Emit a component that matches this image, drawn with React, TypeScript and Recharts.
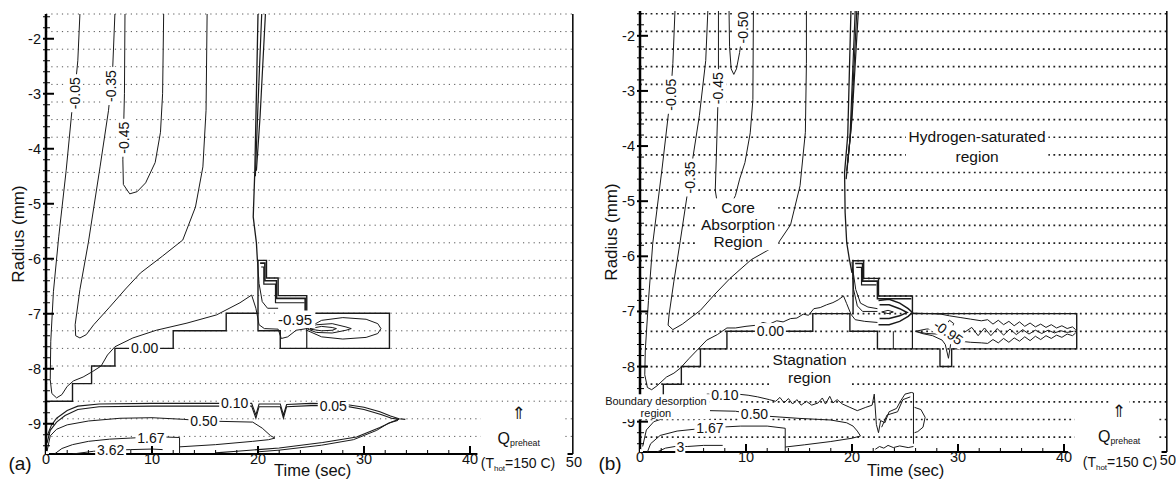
import React from "react";
import { LineChart, Line, XAxis, YAxis, ReferenceLine, ReferenceDot, ReferenceArea } from "recharts";

const FONT = "'Liberation Sans', Arial, Helvetica, sans-serif";
const SYMBOL_FONT = "'DejaVu Sans', 'Liberation Sans', sans-serif";
const INK = "#1a1a1a";
const UP_ARROW = "\u21D1\uFE0E";

// axis ticks
const X_TICKS = [0, 2, 4, 6, 8, 10, 12, 14, 16, 18, 20, 22, 24, 26, 28, 30, 32, 34, 36, 38, 40, 50];
const X_LABELS = [0, 10, 20, 30, 40, 50];
const Y_TICKS = [
  -9.4, -9.2, -9, -8.8, -8.6, -8.4, -8.2, -8, -7.8, -7.6, -7.4, -7.2, -7, -6.8, -6.6, -6.4, -6.2, -6,
  -5.8, -5.6, -5.4, -5.2, -5, -4.8, -4.6, -4.4, -4.2, -4, -3.8, -3.6, -3.4, -3.2, -3, -2.8, -2.6, -2.4,
  -2.2, -2, -1.8, -1.6,
];
const Y_LABELS = [-9, -8, -7, -6, -5, -4, -3, -2];

// radial mesh rows (dotted)
const MESH_A = [
  -1.55, -1.87, -2.19, -2.51, -2.83, -3.15, -3.47, -3.79, -4.11, -4.43, -4.75, -5.07, -5.39, -5.71,
  -6.03, -6.35, -6.67, -6.99, -7.31, -7.63, -7.95, -8.27, -8.59, -8.91, -9.23,
];
const MESH_B = [
  -1.6, -1.92, -2.24, -2.56, -2.88, -3.2, -3.52, -3.84, -4.16, -4.48, -4.8, -5.12, -5.44, -5.76,
  -6.08, -6.4, -6.72, -7.04, -7.36, -7.68, -8.0, -8.32, -8.64, -8.96, -9.28,
];

// ---- panel (a) contours: [time, radius]
const A_ZERO = [[0,-8.59],[2.5,-8.59],[2.5,-8.27],[4.3,-8.27],[4.3,-7.95],[6.5,-7.95],[6.5,-7.63],[12.0,-7.63],[12.0,-7.31],[17.0,-7.31],[17.0,-6.99],[20.0,-6.99],[20.0,-7.31],[22.1,-7.31],[22.1,-7.63],[32.4,-7.63],[32.4,-6.99],[24.6,-6.99],[24.6,-6.67],[21.9,-6.67],[21.9,-6.35],[20.8,-6.35],[20.8,-6.03],[20.0,-6.03],[20.0,-6.99]];
const A_ZERO_IN = [[24.6,-6.99],[24.6,-7.63]];
const A_STEP_IN1 = [[20.2,-6.08],[20.65,-6.08],[20.65,-6.4],[21.75,-6.4],[21.75,-6.72],[24.45,-6.72],[24.45,-6.95]];
const A_STEP_IN2 = [[20.3,-6.15],[20.55,-6.15],[20.55,-6.46],[21.65,-6.46],[21.65,-6.8],[24.4,-6.8]];
const A_BOX_LOW = [[21.9,-7.18],[24.6,-7.18]];
const A_FAN = [[19.95,-6.05],[20.1,-6.45],[20.4,-6.78],[20.9,-6.9],[21.9,-6.9]];
const A_BUNDLE1 = [[20.0,-1.55],[19.85,-3.0],[19.7,-4.4],[19.55,-5.24],[19.85,-5.71],[19.95,-6.05]];
const A_BUNDLE2 = [[20.35,-1.55],[20.0,-3.2],[19.75,-4.5]];
const A_BUNDLE3 = [[20.7,-1.55],[20.2,-3.4],[19.85,-4.4]];
const A_M005 = [[3.2,-1.55],[3.0,-2.4],[2.7,-3.0],[2.45,-3.3],[1.9,-4.4],[1.2,-5.6],[0.7,-6.6],[0.45,-7.5],[0.4,-8.2],[0.55,-8.45],[1.0,-8.53],[1.5,-8.47],[2.0,-8.32],[2.6,-8.22],[3.5,-8.15],[4.4,-8.05],[5.2,-7.95],[5.8,-7.75],[6.5,-7.6],[8.2,-7.44],[10.4,-7.3],[13.3,-7.17],[16.1,-7.02],[18.3,-6.8],[19.4,-6.66],[19.8,-6.9],[20.1,-7.2],[20.6,-7.27],[21.9,-7.28],[22.2,-7.45],[22.8,-7.42],[23.6,-7.3],[24.6,-7.27]];
const A_M035 = [[6.5,-1.55],[6.3,-2.5],[5.9,-3.3],[5.1,-4.33],[4.0,-5.7],[3.2,-6.56],[2.75,-7.2],[2.8,-7.4],[3.2,-7.44],[3.8,-7.38],[4.5,-7.2],[6.0,-6.88],[7.5,-6.55],[8.9,-6.26],[11.0,-5.95],[12.9,-5.66],[14.1,-5.06],[14.8,-4.33],[15.1,-3.3],[15.2,-1.55]];
const A_M045 = [[7.45,-1.55],[7.4,-3.0],[7.25,-4.2],[7.3,-4.65],[7.9,-4.82],[8.6,-4.78],[9.4,-4.62],[10.3,-4.25],[10.8,-3.7],[11.0,-3.0],[11.1,-1.55]];
const A_LOBE1 = [[24.6,-7.27],[26,-7.12],[28,-7.07],[30.2,-7.1],[31.3,-7.18],[31.6,-7.27],[31.3,-7.36],[30.2,-7.43],[28,-7.46],[26,-7.42],[24.6,-7.3]];
const A_LOBE2 = [[24.7,-7.27],[25.5,-7.2],[27,-7.18],[28.3,-7.24],[28.8,-7.27],[28.3,-7.3],[27,-7.35],[25.5,-7.34],[24.7,-7.28]];
const A_LOBE3 = [[24.9,-7.27],[26,-7.23],[27,-7.25],[27.4,-7.27],[27,-7.3],[26,-7.31],[24.9,-7.28]];
const A_010 = [[0.15,-9.2],[0.5,-9.03],[1.0,-8.9],[2.0,-8.76],[3.0,-8.68],[5,-8.64],[10,-8.63],[15,-8.63],[19.4,-8.63],[19.8,-8.84],[20.1,-8.64],[22.1,-8.64],[22.4,-8.84],[22.7,-8.65],[25,-8.63],[28,-8.64],[30,-8.7],[31.5,-8.78],[32.5,-8.86],[33.3,-8.91],[33.9,-8.92]];
const A_005 = [[0.1,-9.35],[0.4,-9.12],[1.0,-8.97],[1.8,-8.85],[3.0,-8.74],[5,-8.69],[10,-8.68],[15,-8.68],[19.4,-8.68],[19.8,-8.9],[20.1,-8.69],[22.1,-8.69],[22.4,-8.9],[22.7,-8.69],[25,-8.67],[28,-8.67],[30,-8.74],[31.6,-8.83],[32.6,-8.9],[33.3,-8.92],[32.6,-8.97],[31.5,-9.07],[29.3,-9.24],[26.1,-9.34],[22.0,-9.44],[20.0,-9.47],[18,-9.5],[16,-9.53]];
const A_005B = [[33.2,-8.94],[32.3,-8.99],[31.2,-9.12],[29.0,-9.29],[26.0,-9.39],[22.0,-9.48],[20,-9.51]];
const A_050 = [[0.1,-9.5],[0.4,-9.22],[1.0,-9.1],[2.0,-9.02],[4,-8.95],[7,-8.9],[10,-8.89],[13,-8.92],[15,-8.95],[19.5,-8.97],[20.4,-9.08],[21.2,-9.22],[21.6,-9.26],[21.0,-9.29],[19.5,-9.32],[16,-9.38],[12.6,-9.42]];
const A_167 = [[0.8,-9.55],[1.5,-9.45],[2.5,-9.38],[4,-9.32],[6,-9.28],[8,-9.26],[9,-9.25],[11,-9.24],[12.6,-9.25],[12.6,-9.55]];
const A_362 = [[2.5,-9.55],[4.5,-9.5],[6,-9.48],[8,-9.47],[10,-9.46],[11,-9.47]];

// ---- panel (b) contours
const B_ZERO = [[0,-8.64],[2.2,-8.64],[2.2,-8.32],[3.9,-8.32],[3.9,-8.0],[5.7,-8.0],[5.7,-7.68],[8.2,-7.68],[8.2,-7.36],[16.3,-7.36],[16.3,-7.04],[19.8,-7.04],[19.8,-7.36],[22.4,-7.36],[22.4,-7.68],[28.3,-7.68],[28.3,-8.0],[29.4,-8.0],[29.4,-7.68],[41.2,-7.68],[41.2,-7.04],[25.7,-7.04],[25.7,-6.72],[22.5,-6.72],[22.5,-6.4],[21.1,-6.4],[21.1,-6.08],[20.1,-6.08],[20.1,-7.04]];
const B_ZERO_IN = [[25.7,-7.04],[25.7,-7.68]];
const B_SMALL = [[23.9,-7.36],[23.9,-7.68]];
const B_STEP_IN1 = [[20.3,-6.13],[21.0,-6.13],[21.0,-6.45],[22.4,-6.45],[22.4,-6.77],[25.6,-6.77]];
const B_STEP_IN2 = [[20.4,-6.2],[20.9,-6.2],[20.9,-6.52],[22.3,-6.52]];
const B_FAN1 = [[20.0,-6.1],[20.15,-6.6],[20.5,-6.9],[21.0,-7.0],[22.4,-7.0]];
const B_FAN2 = [[20.05,-6.2],[20.35,-6.6],[20.8,-6.85],[21.5,-6.92],[22.4,-6.95]];
const B_BULLET1 = [[22.5,-6.8],[23.5,-6.78],[24.5,-6.85],[25.3,-6.95],[25.7,-7.02],[25.3,-7.09],[24.5,-7.18],[23.5,-7.24],[22.5,-7.24]];
const B_BULLET2 = [[22.6,-6.88],[23.5,-6.88],[24.5,-6.95],[25.2,-7.02],[24.5,-7.08],[23.5,-7.13],[22.6,-7.13]];
const B_BULLET3 = [[22.8,-7.01],[23.4,-6.98],[23.9,-7.01],[23.4,-7.04],[22.8,-7.01]];
const B_FUNNEL_TOP = [[25.7,-7.03],[27.5,-7.04],[28.4,-7.05],[29.2,-7.08],[30.2,-7.11],[31.2,-7.14],[32.2,-7.17],[32.8,-7.15],[33.3,-7.23],[33.8,-7.16],[34.3,-7.24],[34.8,-7.18],[35.3,-7.26],[35.8,-7.19],[36.3,-7.27],[36.8,-7.21],[37.3,-7.28],[37.8,-7.23],[38.3,-7.29],[38.8,-7.24],[39.3,-7.3],[39.8,-7.26],[40.3,-7.31],[40.8,-7.28],[41.1,-7.33]];
const B_FUNNEL_BOT = [[41.1,-7.39],[40.8,-7.44],[40.3,-7.41],[39.8,-7.47],[39.3,-7.43],[38.8,-7.49],[38.3,-7.44],[37.8,-7.51],[37.3,-7.45],[36.8,-7.53],[36.3,-7.46],[35.8,-7.54],[35.3,-7.48],[34.8,-7.56],[34.3,-7.49],[33.8,-7.57],[33.3,-7.51],[32.8,-7.58],[32.2,-7.57],[31.2,-7.56],[30.2,-7.54],[29.6,-7.54],[29.3,-7.6],[29.1,-7.85],[28.8,-7.6],[28.5,-7.52],[27.6,-7.44],[26.6,-7.4],[26.0,-7.36]];
const B_CORE = [[26.0,-7.36],[27.0,-7.32],[28.0,-7.31],[28.7,-7.29],[29.2,-7.16],[29.6,-7.22],[29.3,-7.34],[29.8,-7.46],[29.1,-7.44],[28.0,-7.41],[27.0,-7.4],[26.0,-7.36]];
const B_CHAIN = [[30.6,-7.38],[31.3,-7.29],[31.9,-7.44],[32.5,-7.3],[33.1,-7.44],[33.7,-7.31],[34.3,-7.43],[34.9,-7.32],[35.5,-7.42],[36.1,-7.33],[36.7,-7.41],[37.3,-7.34],[37.9,-7.4],[38.5,-7.34],[39.1,-7.39],[39.7,-7.35],[40.3,-7.38],[40.9,-7.36]];
const B_BUNDLE1 = [[19.9,-1.55],[19.6,-3.8],[19.3,-4.48],[19.35,-5.2],[19.5,-5.75],[19.75,-6.05],[20.0,-6.3]];
const B_BUNDLE2 = [[20.3,-1.55],[19.8,-3.9],[19.45,-4.6]];
const B_BUNDLE3 = [[20.6,-1.55],[20.0,-3.5],[19.6,-4.3]];
const B_BUNDLE4 = [[20.45,-1.55],[19.9,-3.7],[19.5,-4.45]];
const B_M005 = [[3.3,-1.55],[3.1,-2.5],[2.9,-3.05],[2.1,-4.38],[1.2,-5.77],[0.8,-6.8],[0.5,-7.7],[0.45,-8.15],[0.7,-8.38],[1.1,-8.42],[1.6,-8.35],[2.5,-8.19],[3.2,-8.12],[3.8,-8.03],[4.6,-7.86],[5.4,-7.7],[6.3,-7.52],[7.3,-7.42],[8.2,-7.3],[9.0,-7.3],[10.0,-7.27],[11.0,-7.25],[11.6,-7.2],[12.2,-7.23],[12.9,-7.17],[13.5,-7.19],[14.2,-7.13],[14.8,-7.12],[15.4,-7.05],[15.9,-7.07],[16.4,-6.95],[17.0,-6.93],[17.6,-6.88],[18.2,-6.84],[18.7,-6.79],[19.2,-6.72],[19.5,-6.86],[19.9,-7.05],[20.3,-7.15],[21.2,-7.18],[22.4,-7.2]];
const B_M035 = [[6.4,-1.55],[6.2,-2.45],[5.6,-3.45],[4.7,-4.57],[3.8,-5.72],[3.2,-6.45],[2.75,-7.05],[2.65,-7.25],[3.1,-7.33],[4.0,-7.23],[5.7,-6.98],[7.0,-6.7],[8.5,-6.4],[10.5,-6.06],[12.9,-5.8],[14.2,-5.43],[15.1,-4.72],[15.6,-3.75],[15.7,-2.5],[15.7,-1.55]];
const B_M045 = [[7.4,-1.55],[7.4,-2.9],[7.2,-4.2],[7.1,-4.8],[7.3,-5.05],[8.2,-5.2],[9.0,-4.9],[9.4,-4.6],[9.9,-4.3],[10.4,-3.76],[10.65,-3.16],[10.7,-1.55]];
const B_M050 = [[8.4,-1.55],[8.45,-2.2],[8.6,-2.6],[8.85,-2.7],[9.1,-2.6],[9.4,-2.3],[9.65,-1.95],[9.75,-1.55]];
const B_010 = [[6.3,-8.5],[9.2,-8.5],[10.2,-8.52],[11.1,-8.55],[12.2,-8.6],[12.8,-8.63],[13.2,-8.56],[13.6,-8.66],[14.0,-8.58],[14.4,-8.68],[14.8,-8.6],[15.2,-8.7],[15.7,-8.63],[16.2,-8.7],[16.8,-8.66],[17.2,-8.57],[17.5,-8.68],[17.9,-8.54],[18.2,-8.66],[18.6,-8.6],[19.1,-8.68],[19.8,-8.74],[20.5,-8.8],[21.3,-8.74],[21.9,-8.7],[22.1,-8.5],[22.3,-9.05],[22.5,-9.2],[22.7,-8.98],[23.1,-9.02],[23.5,-8.82],[24.2,-8.76],[24.6,-8.62],[25.0,-8.5],[25.6,-8.47],[25.8,-8.48],[25.8,-9.4]];
const B_010B = [[22.8,-9.1],[23.3,-8.88],[24.3,-8.82],[24.8,-8.6],[25.5,-8.55]];
const B_LOOP = [[25.9,-8.74],[26.5,-8.78],[26.9,-8.92],[26.7,-9.1],[26.2,-9.18],[25.9,-9.2]];
const B_050 = [[6.6,-8.8],[9.0,-8.81],[12.0,-8.9],[15.0,-8.94],[18.0,-8.97],[19.5,-9.02],[20.1,-9.08],[20.5,-9.17],[20.8,-9.26],[20.0,-9.3],[18.0,-9.36],[15.5,-9.42],[13.7,-9.46]];
const B_167 = [[0.7,-9.55],[1.0,-9.4],[1.9,-9.25],[3.5,-9.17],[5.5,-9.13],[7.5,-9.1],[9.5,-9.08],[12.0,-9.08],[13.7,-9.12],[13.7,-9.55]];
const B_EDGE = [[0.25,-9.45],[0.6,-9.15],[1.3,-9.0],[2.4,-8.93],[3.7,-8.9]];
const B_3 = [[1.6,-9.55],[2.4,-9.48],[3.3,-9.45],[4.5,-9.45],[6.0,-9.43],[7.8,-9.43]];
const B_FLOOR = [[22.2,-9.5],[22.6,-9.45],[23.0,-9.48],[23.4,-9.43],[23.9,-9.47],[24.5,-9.44],[25.3,-9.47],[25.8,-9.45]];

type Tag = { lines: string[]; t: number; r: number; size?: number; rot?: number; lh?: number; sub?: string; font?: string };

const A_TAGS: Tag[] = [
  { lines: ["-0.05"], t: 2.7, r: -2.99, rot: -90 },
  { lines: ["-0.35"], t: 6.1, r: -2.86, rot: -90 },
  { lines: ["-0.45"], t: 7.35, r: -3.8, rot: -90 },
  { lines: ["0.00"], t: 9.3, r: -7.63 },
  { lines: ["-0.95"], t: 23.5, r: -7.1, size: 15 },
  { lines: ["0.10"], t: 17.8, r: -8.63 },
  { lines: ["0.05"], t: 27.1, r: -8.67 },
  { lines: ["0.50"], t: 14.9, r: -8.95 },
  { lines: ["1.67"], t: 9.9, r: -9.25 },
  { lines: ["3.62"], t: 6.1, r: -9.47 },
  { lines: [UP_ARROW], t: 44.6, r: -8.8, size: 17, font: SYMBOL_FONT },
  { lines: ["Q"], sub: "preheat", t: 44.6, r: -9.26, size: 16 },
];

const B_TAGS: Tag[] = [
  { lines: ["-0.05"], t: 2.9, r: -3.07, rot: -90 },
  { lines: ["-0.35"], t: 4.7, r: -4.57, rot: -90 },
  { lines: ["-0.45"], t: 7.4, r: -2.95, rot: -90 },
  { lines: ["-0.50"], t: 9.7, r: -1.85, rot: -90 },
  { lines: ["0.00"], t: 12.3, r: -7.36 },
  { lines: ["-0.95"], t: 29.1, r: -7.38, rot: 35 },
  { lines: ["0.10"], t: 8.0, r: -8.52 },
  { lines: ["0.50"], t: 10.8, r: -8.86 },
  { lines: ["1.67"], t: 6.6, r: -9.12 },
  { lines: ["3"], t: 3.8, r: -9.46 },
  { lines: ["Core", "Absorption", "Region"], t: 9.25, r: -5.42, size: 15.5, lh: 17 },
  { lines: ["Hydrogen-saturated", "region"], t: 31.8, r: -4.01, size: 15.5, lh: 20 },
  { lines: ["Stagnation", "region"], t: 16.0, r: -8.03, size: 15.5, lh: 18 },
  { lines: ["Boundary desorption", "region"], t: 1.5, r: -8.73, size: 11, lh: 12 },
  { lines: [UP_ARROW], t: 45.2, r: -8.8, size: 17, font: SYMBOL_FONT },
  { lines: ["Q"], sub: "preheat", t: 45.2, r: -9.26, size: 16 },
];

const pts = (a: number[][]) => a.map(([t, r]) => ({ t, r }));

function TagShape({ cx, cy, tag }: { cx: number; cy: number; tag: Tag }) {
  const size = tag.size ?? 14;
  const lh = tag.lh ?? size * 1.1;
  const n = tag.lines.length;
  const longest = Math.max(...tag.lines.map((s) => s.length)) + (tag.sub ? tag.sub.length * 0.55 : 0);
  const w = longest * size * 0.5 + 3;
  const h = n * lh + 1;
  return (
    <g transform={`translate(${cx},${cy}) rotate(${tag.rot ?? 0})`}>
      <rect x={-w / 2} y={-h / 2} width={w} height={h} fill="#fff" />
      {tag.lines.map((s, i) => (
        <text key={i} x={0} y={(i - (n - 1) / 2) * lh} textAnchor="middle" dominantBaseline="central"
          fontSize={size} fontFamily={tag.font ?? FONT} fill="#111">
          {s}
          {tag.sub && <tspan fontSize={size * 0.55} dy={size * 0.32}>{tag.sub}</tspan>}
        </text>
      ))}
    </g>
  );
}

type PanelCfg = {
  left: number;
  width: number;
  margin: { top: number; right: number; bottom: number; left: number };
  bottom: number;
  mesh: number[];
  dot: { w: number; dash: string; color: string };
  series: { d: number[][]; w: number }[];
  tags: Tag[];
  axisEnd: number;
};

const PANEL_A: PanelCfg = {
  left: 0,
  width: 590,
  margin: { top: 14, right: 14, bottom: 2, left: 0 },
  bottom: 454,
  mesh: MESH_A,
  dot: { w: 1, dash: "1.2 4.1", color: "#555" },
  axisEnd: 40.7,
  tags: A_TAGS,
  series: [
    { d: A_ZERO, w: 1.4 }, { d: A_ZERO_IN, w: 1.2 }, { d: A_STEP_IN1, w: 1.6 }, { d: A_STEP_IN2, w: 1.2 },
    { d: A_BOX_LOW, w: 1 }, { d: A_FAN, w: 1 }, { d: A_BUNDLE1, w: 1.3 }, { d: A_BUNDLE2, w: 1.2 },
    { d: A_BUNDLE3, w: 1.2 }, { d: A_M005, w: 1 }, { d: A_M035, w: 1 }, { d: A_M045, w: 1 },
    { d: A_LOBE1, w: 1 }, { d: A_LOBE2, w: 1 }, { d: A_LOBE3, w: 1 }, { d: A_010, w: 1.1 },
    { d: A_005, w: 1.1 }, { d: A_005B, w: 1 }, { d: A_050, w: 1 }, { d: A_167, w: 1 }, { d: A_362, w: 1 },
  ],
};

const PANEL_B: PanelCfg = {
  left: 594,
  width: 582,
  margin: { top: 11, right: 6, bottom: 4, left: 0 },
  bottom: 452,
  mesh: MESH_B,
  dot: { w: 1.7, dash: "1.8 3.5", color: "#222" },
  axisEnd: 40.4,
  tags: B_TAGS,
  series: [
    { d: B_ZERO, w: 1.4 }, { d: B_ZERO_IN, w: 1.2 }, { d: B_SMALL, w: 1 }, { d: B_STEP_IN1, w: 1.6 },
    { d: B_STEP_IN2, w: 1.2 }, { d: B_FAN1, w: 1 }, { d: B_FAN2, w: 1 }, { d: B_BULLET1, w: 1.5 },
    { d: B_BULLET2, w: 1.5 }, { d: B_BULLET3, w: 1 }, { d: B_FUNNEL_TOP, w: 1 }, { d: B_FUNNEL_BOT, w: 1 },
    { d: B_CORE, w: 1 }, { d: B_CHAIN, w: 1 }, { d: B_BUNDLE1, w: 1.3 }, { d: B_BUNDLE2, w: 1.2 },
    { d: B_BUNDLE3, w: 1.2 }, { d: B_BUNDLE4, w: 1.2 }, { d: B_M005, w: 1 }, { d: B_M035, w: 1 },
    { d: B_M045, w: 1 }, { d: B_M050, w: 1 }, { d: B_010, w: 1 }, { d: B_010B, w: 1 }, { d: B_LOOP, w: 1 },
    { d: B_050, w: 1 }, { d: B_167, w: 1 }, { d: B_EDGE, w: 1 }, { d: B_3, w: 1 }, { d: B_FLOOR, w: 1 },
  ],
};

function Panel({ cfg }: { cfg: PanelCfg }) {
  const box = { position: "absolute" as const, left: cfg.left, top: 0 };
  const plotLeft = cfg.margin.left + 46;

  const xTick = (p: any) => {
    const v = p.payload.value;
    const major = X_LABELS.includes(v);
    const last = v === 50;
    return (
      <g>
        {!last && (
          <line x1={p.x} x2={p.x} y1={cfg.bottom} y2={cfg.bottom - (major ? 8 : 4)} stroke="#000" strokeWidth={major ? 2 : 1} />
        )}
        {major && (
          <text x={last ? p.x + 6 : p.x} y={cfg.bottom + (last ? 13 : 10)} textAnchor={last ? "end" : "middle"}
            fontSize={14.5} fontFamily={FONT} fill="#111">{v}</text>
        )}
      </g>
    );
  };

  const yTick = (p: any) => {
    const v = p.payload.value;
    const major = Y_LABELS.includes(v);
    return (
      <g>
        <line x1={plotLeft - 3} x2={plotLeft + (major ? 8 : 4)} y1={p.y} y2={p.y} stroke="#000" strokeWidth={major ? 2 : 1} />
        {major && (
          <text x={plotLeft - 5} y={p.y} textAnchor="end" dominantBaseline="central" fontSize={14.5} fontFamily={FONT} fill="#111">{v}</text>
        )}
      </g>
    );
  };

  return (
    <>
      <div style={box}>
        <LineChart width={cfg.width} height={486} margin={cfg.margin}>
          <XAxis dataKey="t" type="number" domain={[0, 50]} ticks={X_TICKS} interval={0} height={30}
            allowDataOverflow axisLine={false} tickLine={false} tick={xTick} />
          <YAxis dataKey="r" type="number" domain={[-9.55, -1.55]} ticks={Y_TICKS} interval={0} width={46}
            allowDataOverflow axisLine={{ stroke: "#000", strokeWidth: 2.5 }} tickLine={false} tick={yTick} />
          {cfg.mesh.map((r) => (
            <ReferenceLine key={r} segment={[{ x: 0, y: r }, { x: 49.7, y: r }]} stroke={cfg.dot.color}
              strokeWidth={cfg.dot.w} strokeDasharray={cfg.dot.dash} />
          ))}
          <ReferenceLine segment={[{ x: 0, y: -9.55 }, { x: cfg.axisEnd, y: -9.55 }]} stroke="#000" strokeWidth={2.2} />
          <ReferenceLine segment={[{ x: 49.2, y: -9.55 }, { x: 49.7, y: -9.55 }]} stroke="#000" strokeWidth={2} />
          <ReferenceLine segment={[{ x: 49.7, y: -9.55 }, { x: 49.7, y: -1.55 }]} stroke="#000" strokeWidth={1.5} />
          {cfg.series.map((s, i) => (
            <Line key={i} data={pts(s.d)} dataKey="r" type="linear" stroke={INK} strokeWidth={s.w}
              dot={false} activeDot={false} isAnimationActive={false} legendType="none" />
          ))}
        </LineChart>
      </div>
      <div style={box}>
        <LineChart width={cfg.width} height={486} margin={cfg.margin}>
          <XAxis dataKey="t" type="number" domain={[0, 50]} height={30} allowDataOverflow axisLine={false} tickLine={false} tick={false} />
          <YAxis dataKey="r" type="number" domain={[-9.55, -1.55]} width={46} allowDataOverflow axisLine={false} tickLine={false} tick={false} />
          <Line data={pts([[0, -9.55]])} dataKey="r" stroke="none" dot={false} activeDot={false} isAnimationActive={false} />
          <ReferenceArea x1={41} x2={48.9} y1={-9.55} y2={-8.72} fill="#fff" fillOpacity={1} stroke="none" />
          {cfg.tags.map((tag, i) => (
            <ReferenceDot key={i} x={tag.t} y={tag.r} r={1} ifOverflow="visible"
              shape={(p: any) => <TagShape cx={p.cx} cy={p.cy} tag={tag} />} />
          ))}
        </LineChart>
      </div>
    </>
  );
}

export default function App() {
  const txt = { fontFamily: FONT, fill: "#111" };
  return (
    <div style={{ position: "absolute", left: 0, top: 0, width: 1176, height: 486, background: "#fff", overflow: "hidden" }}>
      <Panel cfg={PANEL_A} />
      <Panel cfg={PANEL_B} />
      <svg width={1176} height={486} style={{ position: "absolute", left: 0, top: 0, pointerEvents: "none" }}>
        <text x={20} y={470} textAnchor="middle" fontSize={19} {...txt}>(a)</text>
        <text x={610} y={470} textAnchor="middle" fontSize={19} {...txt}>(b)</text>
        <text transform="translate(18,234) rotate(-90)" textAnchor="middle" dominantBaseline="central" fontSize={17} {...txt}>Radius (mm)</text>
        <text transform="translate(611,232) rotate(-90)" textAnchor="middle" dominantBaseline="central" fontSize={17} {...txt}>Radius (mm)</text>
        <text x={274} y={476} textAnchor="start" fontSize={16.5} {...txt}>Time (sec)</text>
        <text x={867} y={476} textAnchor="start" fontSize={16.5} {...txt}>Time (sec)</text>
        <text x={518} y={468} textAnchor="middle" fontSize={14} {...txt}>
          (T<tspan fontSize={8} dy={3}>hot</tspan><tspan dy={-3}>=150 C)</tspan>
        </text>
        <text x={1120} y={467} textAnchor="middle" fontSize={14} {...txt}>
          (T<tspan fontSize={8} dy={3}>hot</tspan><tspan dy={-3}>=150 C)</tspan>
        </text>
      </svg>
    </div>
  );
}
